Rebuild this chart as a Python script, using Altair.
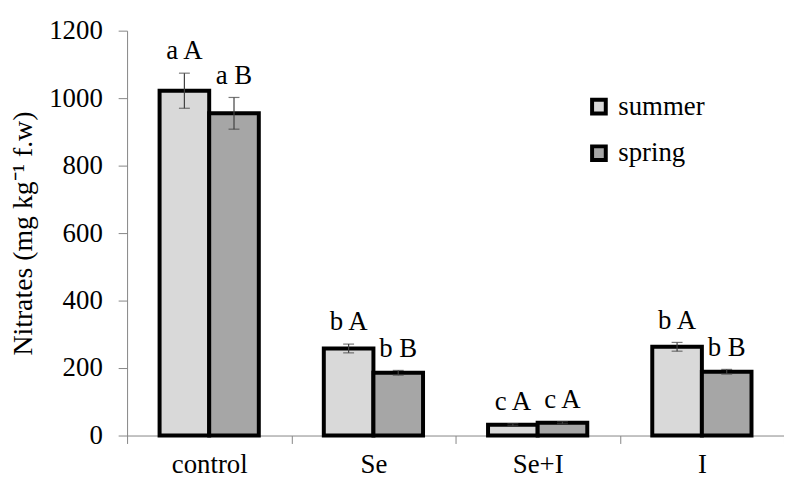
import altair as alt
import pandas as pd

categories = ["control", "Se", "Se+I", "I"]
seasons = ["summer", "spring"]
summer = [1022, 258, 32, 263]
spring = [955, 186, 38, 189]
summer_err = [52, 13, 3, 13]
spring_err = [47, 7, 3, 7]
summer_labels = ["a A", "b A", "c A", "b A"]
spring_labels = ["a B", "b B", "c A", "b B"]

rows = []
for i, c in enumerate(categories):
    rows.append({"cat": c, "season": "summer", "val": summer[i], "err": summer_err[i], "lab": summer_labels[i]})
    rows.append({"cat": c, "season": "spring", "val": spring[i], "err": spring_err[i], "lab": spring_labels[i]})
df = pd.DataFrame(rows)
df["lo"] = df["val"] - df["err"]
df["hi"] = df["val"] + df["err"]

FONT = "Liberation Serif, Times New Roman, serif"
FS = 27

x = alt.X("cat:N", sort=categories, title=None,
          scale=alt.Scale(paddingInner=0, paddingOuter=0),
          axis=alt.Axis(labelAngle=0, tickBand="extent", tickSize=8, labelPadding=8,
                        domainColor="#868686", tickColor="#868686", labelFontSize=FS,
                        labelFont=FONT, labelColor="black"))
xo = alt.XOffset("season:N", sort=seasons,
                 scale=alt.Scale(paddingInner=0, paddingOuter=0.655))

base = alt.Chart(df).encode(x=x, xOffset=xo)

bars = base.mark_bar(stroke="black", strokeWidth=4).encode(
    y=alt.Y("val:Q", scale=alt.Scale(domain=[0, 1200]),
            title="Nitrates (mg kg⁻¹ f.w)",
            axis=alt.Axis(values=list(range(0, 1201, 200)), format="d", grid=False, tickSize=9,
                          labelPadding=16, domainColor="#868686",
                          tickColor="#868686", labelFontSize=FS, titleFontSize=28,
                          titleX=-90, titleY=204, titleAngle=-90, titleAlign="center",
                          titleBaseline="bottom",
                          labelFont=FONT, titleFont=FONT, titleFontWeight="normal",
                          labelColor="black", titleColor="black")),
    color=alt.Color("season:N", sort=seasons,
                    scale=alt.Scale(domain=seasons, range=["#d9d9d9", "#a6a6a6"]),
                    legend=alt.Legend(title=None, orient="none", legendX=462, legendY=63,
                                      symbolType="square", symbolSize=190,
                                      symbolStrokeColor="black", symbolStrokeWidth=4,
                                      labelFontSize=FS, labelFont=FONT, labelColor="black",
                                      rowPadding=16, labelOffset=6)),
)

rules = base.mark_rule(color="#404040", strokeWidth=1.2).encode(
    y="lo:Q", y2="hi:Q")
caps_hi = base.mark_tick(color="#404040", thickness=1.2, size=11, orient="horizontal").encode(y="hi:Q")
caps_lo = base.mark_tick(color="#404040", thickness=1.2, size=11, orient="horizontal").encode(y="lo:Q")

labels = base.mark_text(baseline="alphabetic", dy=-14, fontSize=FS, font=FONT, color="black").encode(
    y="hi:Q", text="lab:N")

chart = alt.layer(bars, rules, caps_hi, caps_lo, labels).properties(
    width=662, height=408,
    autosize=alt.AutoSizeParams(type="none"),
    padding={"left": 120, "top": 21, "right": 0, "bottom": 45},
).configure(font=FONT).configure_view(stroke=None)

chart.save("out.html", embed_options={"renderer": "svg", "actions": False})
